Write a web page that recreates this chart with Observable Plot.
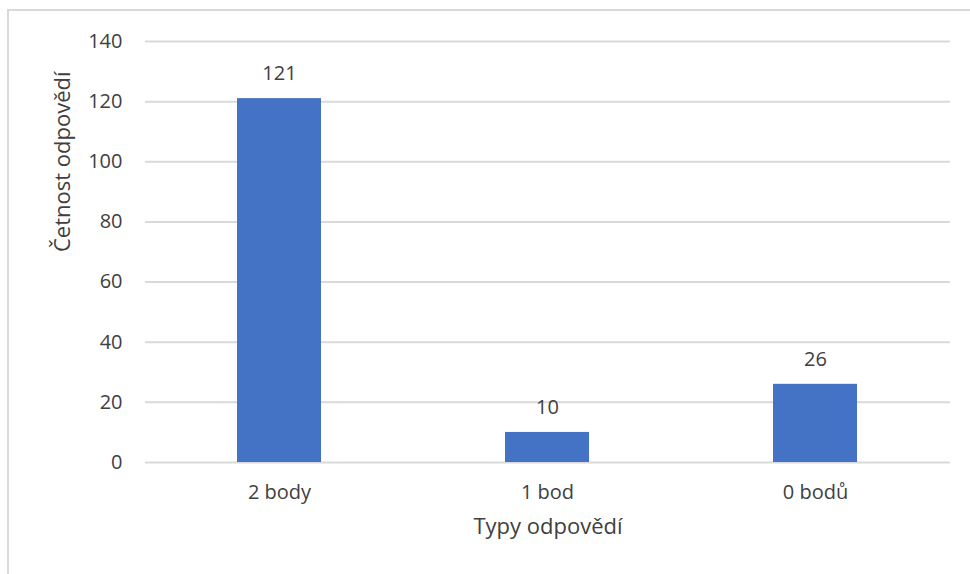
<!DOCTYPE html>
<html>
<head>
<meta charset="utf-8">
<script src="https://cdn.jsdelivr.net/npm/d3@7"></script>
<script src="https://cdn.jsdelivr.net/npm/@observablehq/plot@0.6"></script>
<style>
  html, body { margin: 0; padding: 0; background: #fff; overflow: hidden; }
  #wrap { position: relative; width: 970px; height: 574px; }
  #border { position: absolute; left: 7px; top: 9px; width: 980px; height: 600px; border: 2px solid #d9d9d9; box-sizing: border-box; }
  #chart { position: absolute; left: 0; top: 0; }
</style>
</head>
<body>
<div id="wrap"><div id="border"></div><div id="chart"></div></div>
<script>
const categories = ["2 body", "1 bod", "0 bodů"];
const counts = [121, 10, 26];
const yTicks = [0, 20, 40, 60, 80, 100, 120, 140];
const xTitle = "Typy odpovědí";
const yTitle = "Četnost odpovědí";

const data = categories.map((c, i) => ({category: c, count: counts[i]}));
const textColor = "#404040";
const font = "'Open Sans', sans-serif";

const chart = Plot.plot({
  width: 970,
  height: 574,
  marginLeft: 145,
  marginRight: 20,
  marginTop: 41,
  marginBottom: 112,
  style: {fontFamily: font, fontSize: "20px", color: textColor, background: "transparent"},
  x: {domain: categories, paddingInner: 0.686, paddingOuter: 0.343, label: null},
  y: {domain: [0, 140], label: null},
  marks: [
    Plot.gridY(yTicks, {stroke: "#d9d9d9", strokeOpacity: 1, strokeWidth: 2}),
    Plot.barY(data, {x: "category", y: "count", fill: "#4472c4"}),
    Plot.text(data, {x: "category", y: "count", text: d => String(d.count), dy: -25, fill: textColor, fontSize: 20}),
    Plot.axisY({ticks: yTicks, tickSize: 0, tickPadding: 23, label: null, fontSize: 20, color: textColor}),
    Plot.axisX({tickSize: 0, tickPadding: 22, label: null, fontSize: 20, color: textColor}),
    Plot.text([xTitle], {frameAnchor: "bottom", dy: 71, fill: textColor, fontSize: 22}),
    Plot.text([yTitle], {frameAnchor: "left", dx: -83, rotate: -90, fill: textColor, fontSize: 22})
  ]
});
document.getElementById("chart").appendChild(chart);
</script>
</body>
</html>
